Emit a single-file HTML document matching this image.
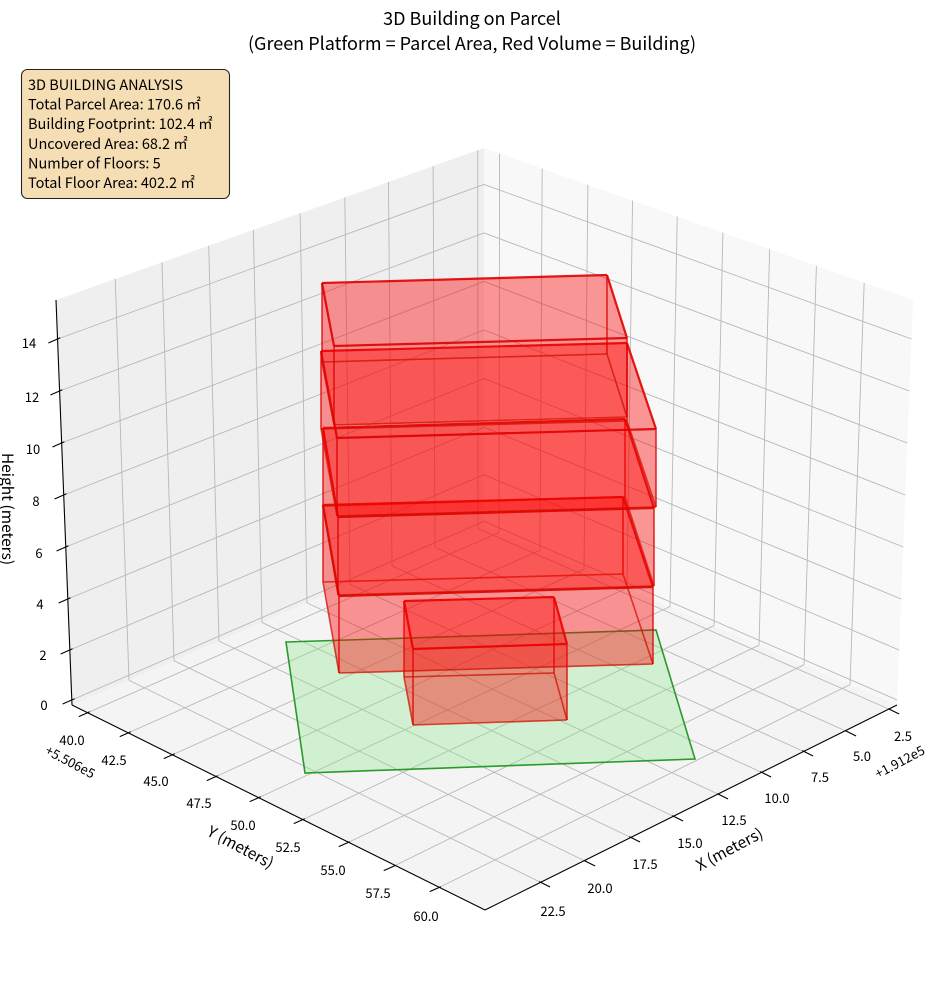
<!DOCTYPE html>
<html><head><meta charset="utf-8">
<style>
html,body{margin:0;padding:0;background:#fff;}
body{width:944px;height:992px;overflow:hidden;}
svg{display:block;}
text{font-family:"Noto Sans CJK JP","Liberation Sans",sans-serif;fill:#000;}
.t{font-size:13px;}
</style></head>
<body>
<svg id="s" width="944" height="992" viewBox="0 0 944 992" xmlns="http://www.w3.org/2000/svg">
<g id="panes">
<polygon points="484,526 72,705 485,910 897,705" fill="#f4f4f4"/>
<polygon points="484,148 56,300 72,705 484,526" fill="#efefef"/>
<polygon points="484,148 913,300 897,705 484,526" fill="#f8f8f8"/>
</g>
<g id="grid" stroke="#b8b8b8" stroke-width="0.9" fill="none"></g>
<g id="axes" stroke="#000" stroke-width="1.1" fill="none">
<line x1="56" y1="300" x2="72" y2="705"/>
<line x1="72" y1="705" x2="485" y2="910"/>
<line x1="485" y1="910" x2="897" y2="705"/>
</g>
<g id="ticks" stroke="#000" stroke-width="1.1"></g>
<polygon points="286,642 656,630 695,759 305,773" fill="rgba(144,230,144,0.35)" stroke="#2a9a2a" stroke-width="1.6"/>
<g id="boxes"></g>

<text x="472" y="25" font-size="18" text-anchor="middle">3D Building on Parcel</text>
<text x="472" y="50" font-size="18" text-anchor="middle">(Green Platform = Parcel Area, Red Volume = Building)</text>

<rect x="21.5" y="69.5" width="208" height="129" rx="6" fill="#f5deb3" stroke="#222" stroke-width="1.1"/>
<g font-size="14.5">
<text x="28" y="90">3D BUILDING ANALYSIS</text>
<text x="28" y="109.6">Total Parcel Area: 170.6 ㎡</text>
<text x="28" y="129.2">Building Footprint: 102.4 ㎡</text>
<text x="28" y="148.8">Uncovered Area: 68.2 ㎡</text>
<text x="28" y="168.4">Number of Floors: 5</text>
<text x="28" y="188">Total Floor Area: 402.2 ㎡</text>
</g>

<g class="t" text-anchor="middle">
<text x="44" y="710">0</text>
<text x="43" y="660">2</text>
<text x="40" y="609">4</text>
<text x="39" y="558">6</text>
<text x="36" y="506">8</text>
<text x="33" y="454">10</text>
<text x="32" y="402">12</text>
<text x="29" y="348">14</text>

<text x="72" y="745">40.0</text>
<text x="114" y="765">42.5</text>
<text x="156" y="786">45.0</text>
<text x="199" y="808">47.5</text>
<text x="243" y="830">50.0</text>
<text x="288" y="852">52.5</text>
<text x="333" y="875">55.0</text>
<text x="378" y="898">57.5</text>
<text x="426" y="921">60.0</text>

<text x="903" y="741">2.5</text>
<text x="862" y="761">5.0</text>
<text x="820" y="782">7.5</text>
<text x="777" y="803">10.0</text>
<text x="734" y="825">12.5</text>
<text x="690" y="848">15.0</text>
<text x="645" y="869">17.5</text>
<text x="600" y="893">20.0</text>
<text x="553" y="916">22.5</text>
</g>
<text class="t" x="0" y="0" text-anchor="middle" transform="translate(68,766) rotate(28)">+5.506e5</text>
<text class="t" x="0" y="0" text-anchor="middle" transform="translate(902,766) rotate(-28)">+1.912e5</text>
<text font-size="15.5" x="0" y="0" text-anchor="middle" transform="translate(238,852) rotate(28)">Y (meters)</text>
<text font-size="15.5" x="0" y="0" text-anchor="middle" transform="translate(732,854) rotate(-28)">X (meters)</text>
<text font-size="15.5" x="0" y="0" text-anchor="middle" transform="translate(2,509) rotate(90)">Height (meters)</text>
</svg>
<script>
(function(){
var NS="http://www.w3.org/2000/svg";
function ln(g,a,b,attrs){var e=document.createElementNS(NS,"line");e.setAttribute("x1",a[0]);e.setAttribute("y1",a[1]);e.setAttribute("x2",b[0]);e.setAttribute("y2",b[1]);if(attrs)for(var k in attrs)e.setAttribute(k,attrs[k]);g.appendChild(e);}
function L(a,b,t){return [a[0]+(b[0]-a[0])*t,a[1]+(b[1]-a[1])*t];}
var O=[484,526],Lp=[72,705],F=[485,910],R=[897,705],OT=[484,148],LT=[56,300],RT=[913,300];
var grid=document.getElementById("grid"),ticks=document.getElementById("ticks");
var xt=[[891,710],[848,732],[805,752],[763,773],[720,795],[675,817],[632,838],[587,862],[542,883]];
var yt=[[87,713],[128,733],[172,755],[215,777],[258,798],[302,820],[347,843],[392,867],[438,888]];
var zy=[700,650,599,547,495,443,391,339];
xt.forEach(function(p){var f=(p[0]-485)/412;var a=L(Lp,O,f),b=L(LT,OT,f);
 ln(grid,p,a);ln(grid,a,b);
 ln(ticks,[p[0]-0.896*3,p[1]-0.445*3],[p[0]+0.896*9,p[1]+0.445*9]);});
yt.forEach(function(p){var g=(p[0]-72)/413;var a=L(O,R,g),b=L(OT,RT,g);
 ln(grid,p,a);ln(grid,a,b);
 ln(ticks,[p[0]+0.917*3,p[1]-0.399*3],[p[0]-0.917*9,p[1]+0.399*9]);});
zy.forEach(function(y){var t=(705-y)/405;var a=L(Lp,LT,t),b=L(O,OT,t),c=L(R,RT,t);
 ln(grid,a,b);ln(grid,b,c);
 ln(ticks,[a[0]+0.917*3,a[1]-0.399*3],[a[0]-0.917*10,a[1]+0.399*10]);});
var boxes=document.getElementById("boxes");
var B=[
 [[[404,601],[554,597],[567,644],[413,649]],76],
 [[[323,505],[623,497],[653,587],[339,596]],77],
 [[[323,428],[625,419],[654,508],[338,517]],78],
 [[[321,351],[627,343],[656,429],[337,438]],78],
 [[[322,283],[607,275],[627,338],[334,346]],79]
];
function poly(pts,fill){var e=document.createElementNS(NS,"polygon");e.setAttribute("points",pts.map(function(p){return p.join(",")}).join(" "));e.setAttribute("fill",fill);e.setAttribute("stroke","none");boxes.appendChild(e);}
B.forEach(function(bx){var T=bx[0],h=bx[1];var D=T.map(function(p){return [p[0],p[1]+h]});
 var fc="rgba(255,0,0,0.225)";
 poly([D[0],D[1],D[2],D[3]],fc);
 poly([T[0],T[1],D[1],D[0]],fc);
 poly([T[0],T[3],D[3],D[0]],fc);
 poly([T[1],T[2],D[2],D[1]],fc);
 poly([T[3],T[2],D[2],D[3]],fc);
 poly([T[0],T[1],T[2],T[3]],fc);
 var st={stroke:"#e00000","stroke-width":"2.2","stroke-opacity":"0.9"};
 for(var i=0;i<4;i++){ln(boxes,T[i],T[(i+1)%4],st);ln(boxes,D[i],D[(i+1)%4],{stroke:"#d01000","stroke-width":"1.6","stroke-opacity":"0.75"});ln(boxes,T[i],D[i],{stroke:"#e00000","stroke-width":"1.6","stroke-opacity":"0.8"});}
});
})();
</script>
</body></html>
